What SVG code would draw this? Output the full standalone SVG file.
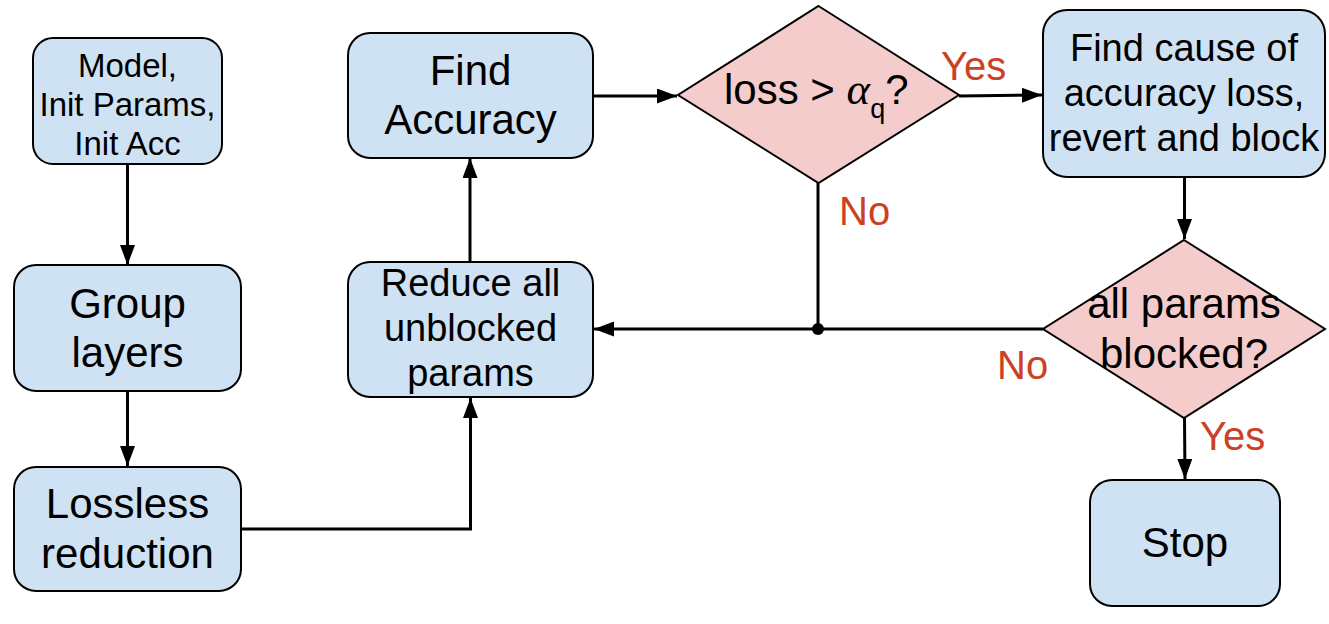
<svg xmlns="http://www.w3.org/2000/svg" width="1329" height="624" viewBox="0 0 1329 624">
<style>
.box{fill:#cfe2f3;stroke:#000;stroke-width:2}
.dia{fill:#f4cccc;stroke:#000;stroke-width:2}
.t{font-family:"Liberation Sans",Arial,sans-serif;font-size:42px;fill:#000;text-anchor:middle}
.ts{font-size:33px}
.tm{font-size:38px}
.lbl{font-family:"Liberation Sans",Arial,sans-serif;font-size:40px;fill:#cc4125}
.c{fill:none;stroke:#000;stroke-width:3}
</style>
<defs>
<marker id="ah" markerUnits="userSpaceOnUse" markerWidth="21" markerHeight="16" refX="20" refY="7.5" orient="auto">
<path d="M0,0 L20,7.5 L0,15 z" fill="#000"/>
</marker>
</defs>
<rect width="1329" height="624" fill="#fff"/>
<g id="connectors">
<line class="c" x1="127.5" y1="164" x2="127.5" y2="265" marker-end="url(#ah)"/>
<line class="c" x1="127.5" y1="391" x2="127.5" y2="466" marker-end="url(#ah)"/>
<polyline class="c" points="241,529 470.5,529 470.5,398" marker-end="url(#ah)"/>
<line class="c" x1="470" y1="262" x2="470" y2="158" marker-end="url(#ah)"/>
<line class="c" x1="592" y1="96" x2="677" y2="96" marker-end="url(#ah)"/>
<line class="c" x1="959" y1="96" x2="1042" y2="95" marker-end="url(#ah)"/>
<line class="c" x1="1184.5" y1="177" x2="1184.5" y2="239" marker-end="url(#ah)"/>
<line class="c" x1="818" y1="183" x2="818" y2="329"/>
<line class="c" x1="1043" y1="329" x2="594" y2="329" marker-end="url(#ah)"/>
<circle cx="818" cy="329" r="6" fill="#000"/>
<line class="c" x1="1184.5" y1="418" x2="1185" y2="479" marker-end="url(#ah)"/>
</g>
<g id="n-model">
<rect class="box" x="33" y="38" width="189" height="126" rx="20"/>
<text class="t ts" x="127.5" y="77">Model,</text>
<text class="t ts" x="127.5" y="116">Init Params,</text>
<text class="t ts" x="127.5" y="155">Init Acc</text>
</g>
<g id="n-group">
<rect class="box" x="14" y="265" width="227" height="126" rx="22"/>
<text class="t" x="127.5" y="318">Group</text>
<text class="t" x="127.5" y="367">layers</text>
</g>
<g id="n-lossless">
<rect class="box" x="14" y="467" width="227" height="124" rx="22"/>
<text class="t" x="127.5" y="518">Lossless</text>
<text class="t" x="127.5" y="568">reduction</text>
</g>
<g id="n-reduce">
<rect class="box" x="348" y="262" width="245" height="135" rx="22"/>
<text class="t tm" x="470.5" y="296">Reduce all</text>
<text class="t tm" x="470.5" y="341">unblocked</text>
<text class="t tm" x="470.5" y="386">params</text>
</g>
<g id="n-findacc">
<rect class="box" x="348" y="33" width="245" height="125" rx="22"/>
<text class="t" x="470.5" y="85">Find</text>
<text class="t" x="470.5" y="134">Accuracy</text>
</g>
<g id="n-loss">
<polygon class="dia" points="818.5,6 959,95 818.5,183 678,95"/>
<text class="t" x="724" y="104" style="text-anchor:start">loss &gt; <tspan font-family="'Liberation Serif',serif" font-style="italic" font-size="45">α</tspan><tspan font-size="27" dy="14">q</tspan><tspan dy="-14">?</tspan></text>
</g>
<g id="n-findcause">
<rect class="box" x="1043" y="10" width="282" height="167" rx="24"/>
<text class="t tm" x="1184" y="61">Find cause of</text>
<text class="t tm" x="1184" y="106">accuracy loss,</text>
<text class="t tm" x="1184" y="151">revert and block</text>
</g>
<g id="n-blocked">
<polygon class="dia" points="1184,240 1325,329 1184,418 1043,329"/>
<text class="t" x="1184" y="318">all params</text>
<text class="t" x="1184" y="368">blocked?</text>
</g>
<g id="n-stop">
<rect class="box" x="1090" y="480" width="190" height="126" rx="22"/>
<text class="t" x="1185" y="557">Stop</text>
</g>
<g id="labels">
<text class="lbl" x="941" y="80">Yes</text>
<text class="lbl" x="839" y="225">No</text>
<text class="lbl" x="997" y="379">No</text>
<text class="lbl" x="1200" y="450">Yes</text>
</g>
</svg>
